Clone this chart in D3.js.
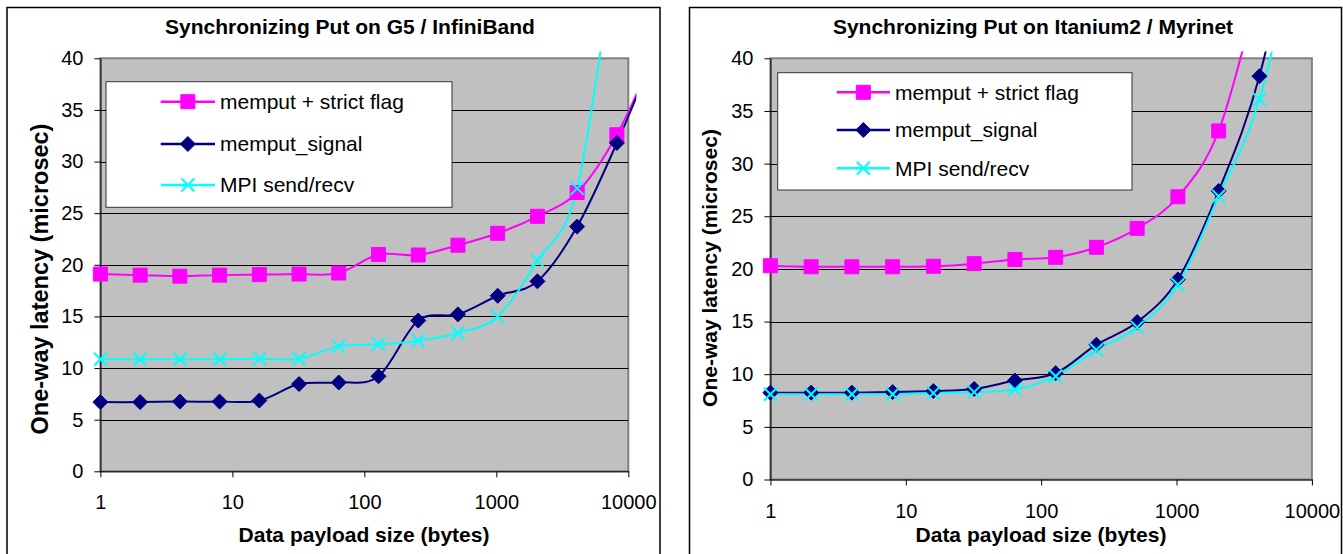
<!DOCTYPE html>
<html>
<head>
<meta charset="utf-8">
<script src="https://cdn.jsdelivr.net/npm/d3@7"></script>
<style>
  html, body { margin: 0; padding: 0; background: #fff; }
  svg { display: block; font-family: "Liberation Sans", Arial, sans-serif; }
</style>
</head>
<body>
<div id="chart"></div>
<script>
// message sizes in bytes (x axis), last entries fall outside the axis and get clipped
const sizes = [1, 2, 4, 8, 16, 32, 64, 128, 256, 512, 1024, 2048, 4096, 8192, 16384];
const seriesNames = ["memput + strict flag", "memput_signal", "MPI send/recv"];
const xTicks = [1, 10, 100, 1000, 10000];
const xTickLabels = ["1", "10", "100", "1000", "10000"];
const yTicks = [0, 5, 10, 15, 20, 25, 30, 35, 40];

// G5 / InfiniBand, latency in microsec
const g5Strict = [19.1, 19.0, 18.9, 19.0, 19.05, 19.1, 19.2, 21.0, 20.95, 21.9, 23.05, 24.7, 27.0, 32.6, 41];
const g5Signal = [6.7, 6.7, 6.75, 6.75, 6.85, 8.45, 8.6, 9.2, 14.6, 15.2, 17.0, 18.4, 23.7, 31.8, 41];
const g5Mpi = [10.85, 10.85, 10.85, 10.85, 10.9, 10.9, 12.1, 12.3, 12.65, 13.4, 15.0, 20.4, 27.4, 52];

// Itanium2 / Myrinet
const itStrict = [20.3, 20.2, 20.2, 20.2, 20.25, 20.5, 20.9, 21.1, 22.05, 23.85, 26.85, 33.1, 47];
const itSignal = [8.25, 8.25, 8.25, 8.3, 8.4, 8.6, 9.4, 10.1, 12.8, 14.95, 19.0, 27.4, 38.3, 56];
const itMpi = [8.1, 8.1, 8.1, 8.1, 8.2, 8.3, 8.55, 9.8, 12.3, 14.45, 18.5, 26.9, 36.1, 53];

const colors = ["#ff00ff", "#000080", "#00ffff"];
const symbols = ["square", "diamond", "cross"];

const W = 1343, H = 554;

const svg = d3.select("#chart")
  .append("svg")
  .attr("width", W)
  .attr("height", H);

const markerPath = (type) => {
  if (type === "square") return "M-7,-7h14v14h-14Z";
  if (type === "diamond") return "M0,-7.5L7.5,0L0,7.5L-7.5,0Z";
  return "M-6.5,-6.5L6.5,6.5M6.5,-6.5L-6.5,6.5";
};

const drawMarker = (sel, type, color) => {
  sel.attr("d", markerPath(type));
  if (type === "cross") {
    sel.attr("fill", "none").attr("stroke", color).attr("stroke-width", 2);
  } else {
    sel.attr("fill", color).attr("stroke", color).attr("stroke-width", 1);
  }
};

function drawPanel(p) {
  const x = d3.scaleLog().domain([1, 10000]).range([p.left, p.right]);
  const y = d3.scaleLinear().domain([0, 40]).range([p.bottom, p.top]);

  // outer frame
  svg.append("rect")
    .attr("x", p.frameX)
    .attr("y", 7.5)
    .attr("width", p.frameW)
    .attr("height", 560)
    .attr("fill", "#fff")
    .attr("stroke", "#000")
    .attr("stroke-width", 1.5);

  // gray plot area
  svg.append("rect")
    .attr("x", p.left)
    .attr("y", p.top)
    .attr("width", p.right - p.left)
    .attr("height", p.bottom - p.top)
    .attr("fill", "#c0c0c0")
    .attr("stroke", "#808080")
    .attr("stroke-width", 2);

  // horizontal gridlines
  yTicks.filter((t) => t > 0 && t < 40).forEach((t) => {
    svg.append("line")
      .attr("x1", p.left)
      .attr("x2", p.right)
      .attr("y1", Math.round(y(t)) + 0.5)
      .attr("y2", Math.round(y(t)) + 0.5)
      .attr("stroke", "#000")
      .attr("stroke-width", 1);
  });

  const yAxis = d3.axisLeft(y).tickValues(yTicks).tickSize(6).tickSizeOuter(0).tickPadding(11).tickFormat((d) => d);
  const xAxis = d3.axisBottom(x).tickValues(xTicks).tickSize(6).tickSizeOuter(0).tickPadding(18)
    .tickFormat((d, i) => xTickLabels[i]);

  svg.append("g")
    .attr("transform", "translate(" + p.left + ",0)")
    .call(yAxis)
    .attr("font-size", 20)
    .attr("font-family", null);

  svg.append("g")
    .attr("transform", "translate(0," + p.bottom + ")")
    .call(xAxis)
    .attr("font-size", 20)
    .attr("font-family", null);

  svg.selectAll(".domain").attr("stroke", "#000");

  // clipping lets the lines run a bit beyond the plot, like the original
  const clipId = "clip-" + p.id;
  svg.append("clipPath")
    .attr("id", clipId)
    .append("rect")
    .attr("x", p.left - 10)
    .attr("y", p.top - 6.7)
    .attr("width", p.right - p.left + 18)
    .attr("height", p.bottom - p.top + 20);

  const line = d3.line()
    .curve(d3.curveCardinal.tension(0))
    .x((d) => x(d[0]))
    .y((d) => y(d[1]));

  const plot = svg.append("g").attr("clip-path", "url(#" + clipId + ")");

  p.series.forEach((vals, i) => {
    const data = vals.map((v, j) => [sizes[j], v]);
    plot.append("path")
      .attr("d", line(data))
      .attr("fill", "none")
      .attr("stroke", colors[i])
      .attr("stroke-width", 2);
  });

  p.series.forEach((vals, i) => {
    const data = vals.map((v, j) => [sizes[j], v]);
    plot.selectAll(null)
      .data(data)
      .enter()
      .append("path")
      .attr("transform", (d) => "translate(" + x(d[0]) + "," + y(d[1]) + ")")
      .call(drawMarker, symbols[i], colors[i]);
  });

  // legend box
  const lg = p.legend;
  svg.append("rect")
    .attr("x", lg.x)
    .attr("y", lg.y)
    .attr("width", lg.w)
    .attr("height", lg.h)
    .attr("fill", "#fff")
    .attr("stroke", "#333")
    .attr("stroke-width", 1);

  seriesNames.forEach((name, i) => {
    const ry = lg.rows[i];
    svg.append("line")
      .attr("x1", lg.x0)
      .attr("x2", lg.x1)
      .attr("y1", ry)
      .attr("y2", ry)
      .attr("stroke", colors[i])
      .attr("stroke-width", 2.5);
    svg.append("path")
      .attr("transform", "translate(" + ((lg.x0 + lg.x1) / 2) + "," + ry + ")")
      .call(drawMarker, symbols[i], colors[i]);
    svg.append("text")
      .attr("x", lg.tx)
      .attr("y", ry)
      .attr("dy", "0.35em")
      .attr("font-size", 21)
      .text(name);
  });

  // titles
  svg.append("text")
    .attr("x", p.titleX)
    .attr("y", 34)
    .attr("text-anchor", "middle")
    .attr("font-size", 21)
    .attr("font-weight", "bold")
    .text(p.title);

  svg.append("text")
    .attr("x", p.xTitleX)
    .attr("y", 541.5)
    .attr("text-anchor", "middle")
    .attr("font-size", 21)
    .attr("font-weight", "bold")
    .text("Data payload size (bytes)");

  svg.append("text")
    .attr("transform", "translate(" + p.yTitleX + "," + p.yTitleY + ") rotate(-90)")
    .attr("text-anchor", "middle")
    .attr("font-size", p.yTitleSize)
    .attr("font-weight", "bold")
    .text("One-way latency (microsec)");
}

drawPanel({
  id: "g5",
  title: "Synchronizing Put on G5 / InfiniBand",
  frameX: 7, frameW: 653,
  left: 100.4, right: 628.3, top: 58.3, bottom: 471.3,
  titleX: 350, xTitleX: 364,
  yTitleX: 48, yTitleY: 279, yTitleSize: 23.5,
  series: [g5Strict, g5Signal, g5Mpi],
  legend: { x: 106, y: 81.7, w: 346, h: 125.6, x0: 160.7, x1: 215, tx: 220, rows: [101.7, 144, 185] }
});

drawPanel({
  id: "it2",
  title: "Synchronizing Put on Itanium2 / Myrinet",
  frameX: 689.5, frameW: 652,
  left: 770.4, right: 1311.9, top: 58.3, bottom: 479.5,
  titleX: 1033, xTitleX: 1041,
  yTitleX: 716.5, yTitleY: 268, yTitleSize: 21,
  series: [itStrict, itSignal, itMpi],
  legend: { x: 777.7, y: 72.7, w: 354.3, h: 117.3, x0: 836.7, x1: 890, tx: 895, rows: [92.3, 130, 168.3] }
});
</script>
</body>
</html>
